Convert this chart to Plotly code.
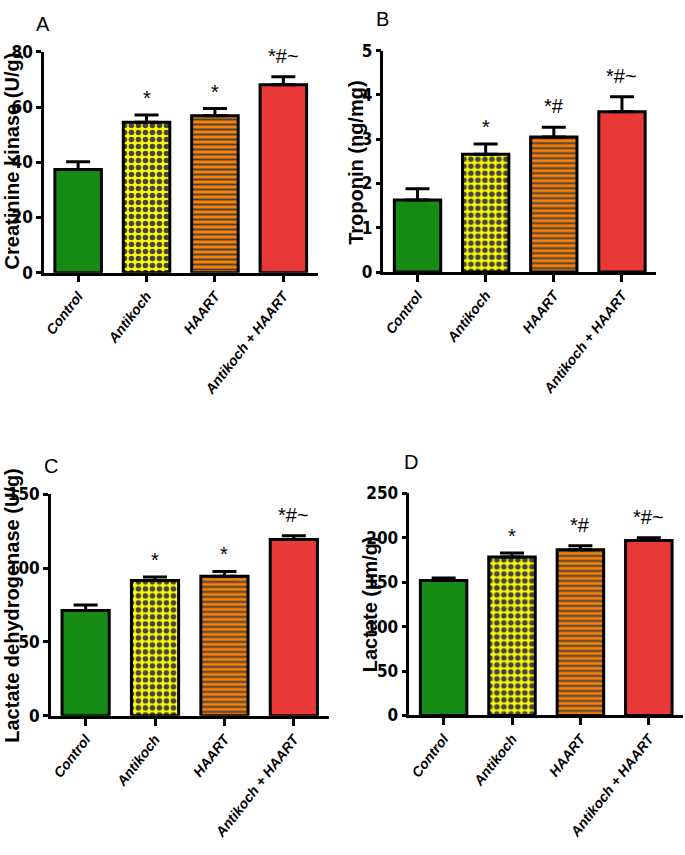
import plotly.graph_objects as go

W, H = 685, 855

categories = ["Control", "Antikoch", "HAART", "Antikoch + HAART"]

ck_values = [37.4, 54.5, 56.9, 68.1]
ck_errors = [2.8, 2.7, 2.6, 2.9]
ck_marks = ["", "*", "*", "*#~"]

trop_values = [1.63, 2.66, 3.05, 3.62]
trop_errors = [0.25, 0.23, 0.22, 0.34]
trop_marks = ["", "*", "*#", "*#~"]

ldh_values = [71.3, 91.6, 94.6, 119.4]
ldh_errors = [3.7, 2.4, 3.2, 2.6]
ldh_marks = ["", "*", "*", "*#~"]

lac_values = [152.0, 178.5, 186.6, 196.9]
lac_errors = [2.7, 4.5, 4.4, 3.3]
lac_marks = ["", "*", "*#", "*#~"]

fill_colors = ["#158a15", "#ffff00", "#ff8000", "#e83838"]
pattern_fg = ["#000000", "#000000", "#3a1a00", "#000000"]
pattern_shapes = ["", ".", "-", ""]
pattern_sizes = [5, 7, 5, 6]
pattern_solid = [0.5, 0.5, 0.4, 0.3]

panels = [
    dict(letter="A", title="Creatinine kinase (U/g)", vals=ck_values, errs=ck_errors,
         marks=ck_marks, yrange=[0, 80], ticks=[0, 20, 40, 60, 80],
         px_x=(43, 317), px_y=(43, 269), letter_px=(42, 14), title_px=(11, 154)),
    dict(letter="B", title="Troponin (ng/mg)", vals=trop_values, errs=trop_errors,
         marks=trop_marks, yrange=[0, 5], ticks=[0, 1, 2, 3, 4, 5],
         px_x=(383, 656), px_y=(41.7, 268.3), letter_px=(382, 9), title_px=(356, 156)),
    dict(letter="C", title="Lactate dehydrogenase (U/g)", vals=ldh_values, errs=ldh_errors,
         marks=ldh_marks, yrange=[0, 150], ticks=[0, 50, 100, 150],
         px_x=(50, 328), px_y=(496, 722.7), letter_px=(50, 467), title_px=(11, 609)),
    dict(letter="D", title="Lactate (\u00b5m/g)", vals=lac_values, errs=lac_errors,
         marks=lac_marks, yrange=[0, 250], ticks=[0, 50, 100, 150, 200, 250],
         px_x=(409, 683), px_y=(495, 722.3), letter_px=(411, 463), title_px=(369, 608)),
]

fig = go.Figure()
xtick_font = dict(family="Liberation Sans, Arial", size=14, color="black",
                  weight="bold", style="italic")
ytick_font = dict(family="Liberation Sans Narrow, Arial Narrow, DejaVu Sans Condensed, Liberation Sans",
                  size=17, color="black", weight="bold")

for i, p in enumerate(panels):
    n = "" if i == 0 else str(i + 1)
    xa, ya = "x" + n, "y" + n
    fig.add_trace(go.Bar(
        x=categories, y=p["vals"], xaxis=xa, yaxis=ya, width=0.68,
        marker=dict(color=fill_colors, line=dict(color="black", width=3),
                    pattern=dict(shape=pattern_shapes, fgcolor=pattern_fg,
                                 size=pattern_sizes, solidity=pattern_solid,
                                 fillmode="overlay", fgopacity=1)),
        error_y=dict(type="data", symmetric=False, array=p["errs"], arrayminus=[0] * 4,
                     color="black", thickness=3, width=12),
        showlegend=False, hoverinfo="skip",
    ))
    x0, x1 = p["px_x"]
    yt, yb = p["px_y"]
    fig.layout["xaxis" + n] = dict(
        domain=[x0 / W, x1 / W], anchor=ya, range=[-0.5, 3.5], type="category",
        showline=True, linecolor="black", linewidth=2.5, ticks="outside", ticklen=7,
        tickwidth=2.5, tickcolor="black", tickangle=-52, tickfont=xtick_font,
        showgrid=False, zeroline=False, fixedrange=True,
    )
    fig.layout["yaxis" + n] = dict(
        domain=[1 - yb / H, 1 - yt / H], anchor=xa, range=p["yrange"],
        tickvals=p["ticks"], showline=True, linecolor="black", linewidth=2.5,
        ticks="outside", ticklen=5, tickwidth=2.5, tickcolor="black",
        tickfont=ytick_font, showgrid=False, zeroline=False, fixedrange=True,
    )
    for c, v, e, m in zip(categories, p["vals"], p["errs"], p["marks"]):
        if m:
            fig.add_annotation(x=c, y=v + e, xref=xa, yref=ya, text=m, showarrow=False,
                               yanchor="middle", yshift=17 if m == "*" else 21,
                               font=dict(family="Liberation Sans, Arial", size=20, color="black"))
    lx, ly = p["letter_px"]
    fig.add_annotation(x=lx / W, y=1 - ly / H, xref="paper", yref="paper", text=p["letter"],
                       showarrow=False, xanchor="center", yanchor="middle",
                       font=dict(family="Liberation Sans, Arial", size=20, color="black"))
    tx, ty = p["title_px"]
    fig.add_annotation(x=tx / W, y=1 - ty / H, xref="paper", yref="paper", text=p["title"],
                       showarrow=False, xanchor="center", yanchor="middle", textangle=-90,
                       font=dict(family="Liberation Sans, Arial", size=20, color="black",
                                 weight="bold"))

fig.update_layout(width=W, height=H, margin=dict(l=0, r=0, t=0, b=0),
                  plot_bgcolor="white", paper_bgcolor="white")
fig.write_html("out.html", config={"displayModeBar": False},
               post_script="document.body.style.margin='0px';")
